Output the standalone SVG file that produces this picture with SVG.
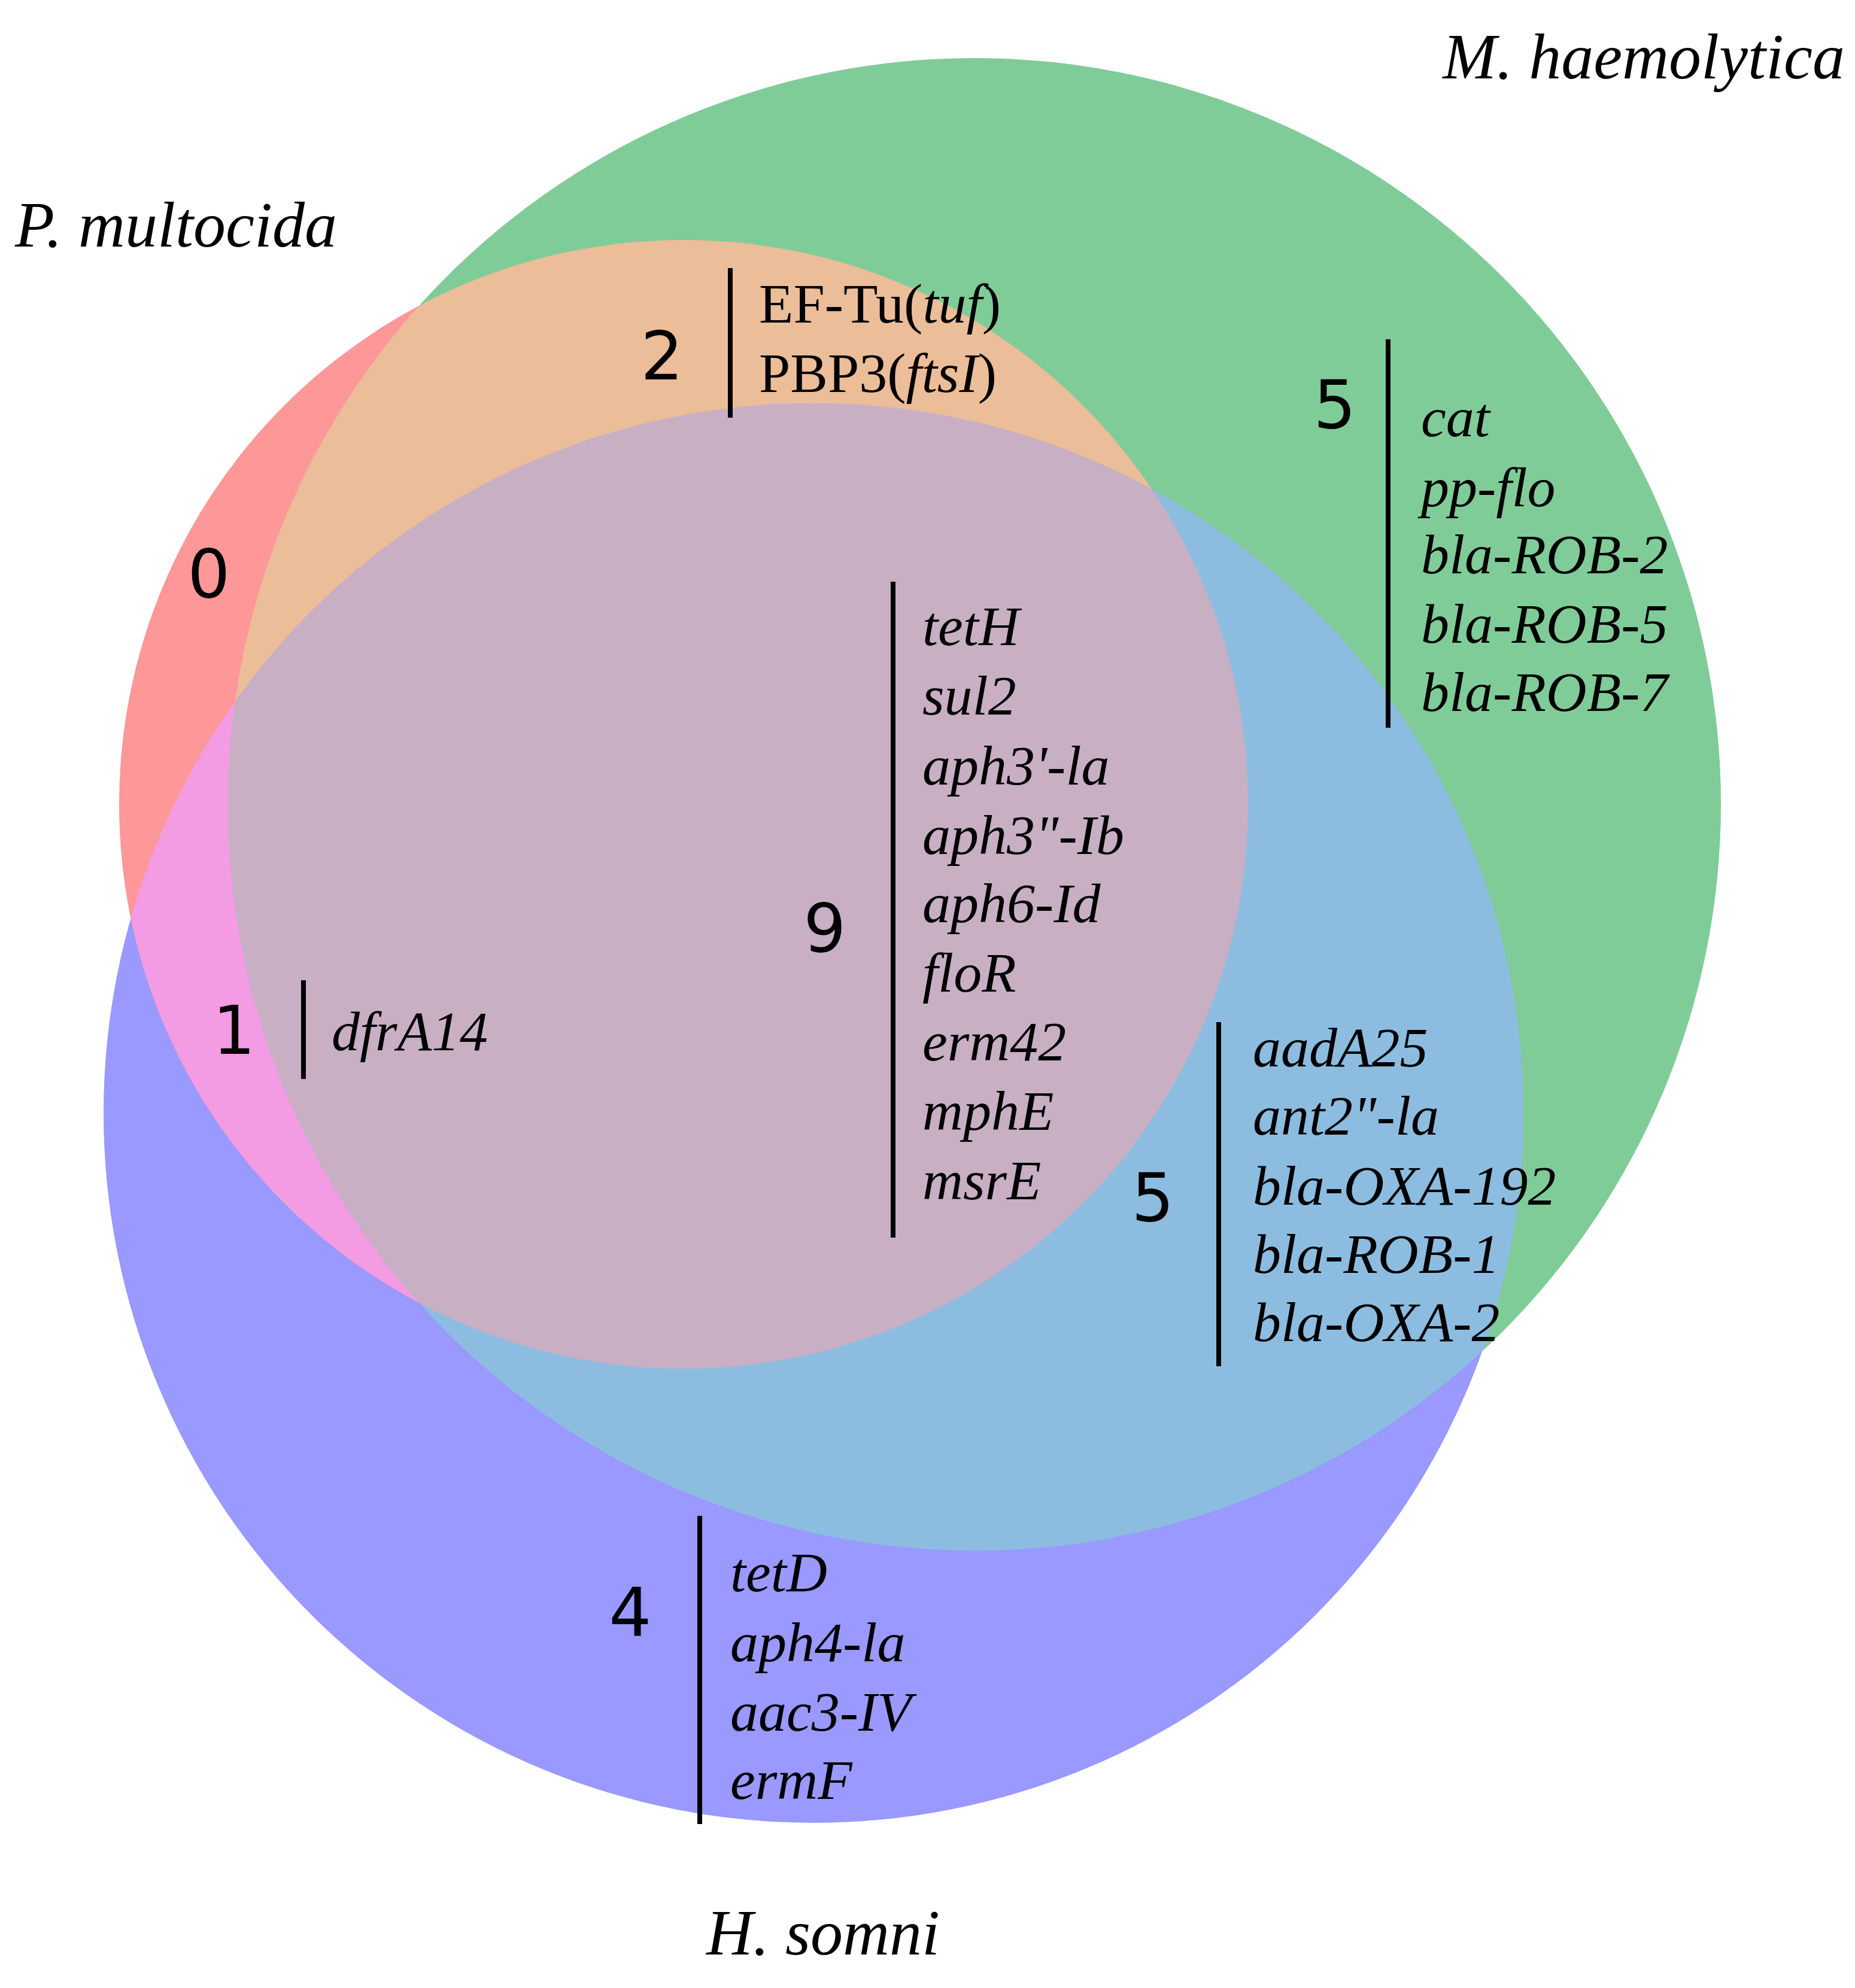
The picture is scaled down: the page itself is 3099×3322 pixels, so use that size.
<svg xmlns="http://www.w3.org/2000/svg" width="3099" height="3322" viewBox="0 0 3099 3322">
<style>
.t{font-family:"Liberation Serif",serif;font-style:italic;font-size:94px;fill:#000}
.r{font-style:normal}
.ti{font-family:"Liberation Serif",serif;font-style:italic;font-size:108px;fill:#000}
.n{font-family:"DejaVu Sans",sans-serif;font-size:112px;fill:#000;text-anchor:middle}
.bar{stroke:#000;stroke-width:8}
</style>
<defs>
<clipPath id="cr"><circle cx="1142" cy="1344" r="943"/></clipPath>
<clipPath id="cg"><circle cx="1628" cy="1344" r="1247"/></clipPath>
</defs>
<rect width="3099" height="3322" fill="#fff"/>
<g id="circles">
<circle id="green" cx="1628" cy="1344" r="1247" fill="#80cc99"/>
<circle id="blue" cx="1359" cy="1860" r="1186" fill="#9999ff"/>
<circle id="red" cx="1142" cy="1344" r="943" fill="#fe9797"/>
<circle cx="1628" cy="1344" r="1247" fill="#ebbd98" clip-path="url(#cr)"/>
<circle cx="1359" cy="1860" r="1186" fill="#f39be3" clip-path="url(#cr)"/>
<circle cx="1359" cy="1860" r="1186" fill="#8cbde0" clip-path="url(#cg)"/>
<g clip-path="url(#cr)"><circle cx="1359" cy="1860" r="1186" fill="#c8afc4" clip-path="url(#cg)"/></g>
</g>
<g id="titles">
<text class="ti" x="3082" y="131" text-anchor="end">M. haemolytica</text>
<text class="ti" x="25" y="412">P. multocida</text>
<text class="ti" x="1180" y="3266">H. somni</text>
</g>
<g id="connectors">
<line class="bar" x1="1220" y1="448" x2="1220" y2="698"/>
<line class="bar" x1="2319" y1="567" x2="2319" y2="1216"/>
<line class="bar" x1="1492" y1="972" x2="1492" y2="2068"/>
<line class="bar" x1="507" y1="1638" x2="507" y2="1803"/>
<line class="bar" x1="2036" y1="1708" x2="2036" y2="2283"/>
<line class="bar" x1="1169" y1="2533" x2="1169" y2="3048"/>
</g>
<g id="rg">
<text class="n" x="1106" y="634">2</text>
<text class="t r" x="1268" y="539">EF-Tu(<tspan font-style="italic">tuf</tspan>)</text>
<text class="t r" x="1268" y="655">PBP3(<tspan font-style="italic">ftsI</tspan>)</text>
</g>
<g id="g">
<text class="n" x="2230" y="715">5</text>
<text class="t" x="2374" y="729">cat</text>
<text class="t" x="2374" y="846">pp-flo</text>
<text class="t" x="2374" y="958">bla-ROB-2</text>
<text class="t" x="2374" y="1074">bla-ROB-5</text>
<text class="t" x="2374" y="1188">bla-ROB-7</text>
</g>
<g id="r"><text class="n" x="349" y="998">0</text></g>
<g id="rgb">
<text class="n" x="1378" y="1590">9</text>
<text class="t" x="1541" y="1078">tetH</text>
<text class="t" x="1541" y="1194">sul2</text>
<text class="t" x="1541" y="1311">aph3'-la</text>
<text class="t" x="1541" y="1427">aph3"-Ib</text>
<text class="t" x="1541" y="1541">aph6-Id</text>
<text class="t" x="1541" y="1657">floR</text>
<text class="t" x="1541" y="1772">erm42</text>
<text class="t" x="1541" y="1888">mphE</text>
<text class="t" x="1541" y="2004">msrE</text>
</g>
<g id="rb">
<text class="n" x="391" y="1761">1</text>
<text class="t" x="554" y="1755">dfrA14</text>
</g>
<g id="gb">
<text class="n" x="1926" y="2040">5</text>
<text class="t" x="2093" y="1782">aadA25</text>
<text class="t" x="2093" y="1896">ant2"-la</text>
<text class="t" x="2093" y="2013">bla-OXA-192</text>
<text class="t" x="2093" y="2127">bla-ROB-1</text>
<text class="t" x="2093" y="2241">bla-OXA-2</text>
</g>
<g id="b">
<text class="n" x="1053" y="2733">4</text>
<text class="t" x="1220" y="2659">tetD</text>
<text class="t" x="1220" y="2776">aph4-la</text>
<text class="t" x="1220" y="2892">aac3-IV</text>
<text class="t" x="1220" y="3006">ermF</text>
</g>
</svg>
